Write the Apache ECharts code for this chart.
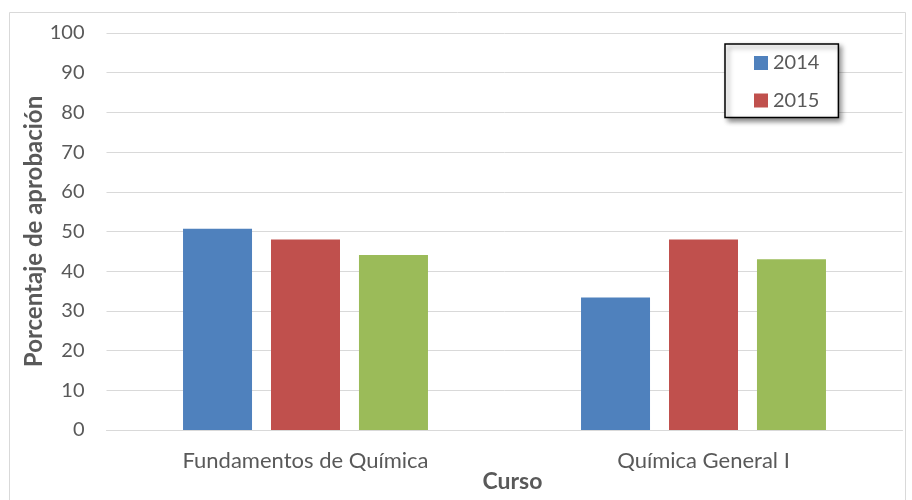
<!DOCTYPE html>
<html><head><meta charset="utf-8">
<script src="https://cdn.jsdelivr.net/npm/echarts@6/dist/echarts.min.js"></script>
<style>html,body{margin:0;padding:0;background:#fff}#c{width:912px;height:500px}</style>
</head><body><div id="c"></div>
<script>
const categories = ['Fundamentos de Química', 'Química General I'];
const s2014 = [50.7, 33.4];
const s2015 = [48.0, 48.0];
const s2016 = [44.1, 43.0];
const yTicks = [0, 10, 20, 30, 40, 50, 60, 70, 80, 90, 100];
const FONT = 'Lato, "Open Sans", sans-serif';
const chart = echarts.init(document.getElementById('c'), null, {renderer: 'canvas'});
chart.setOption({
  animation: false,
  backgroundColor: '#fff',
  graphic: [{type: 'rect', shape: {x: 9.5, y: 12.5, width: 896, height: 500}, style: {fill: 'none', stroke: '#d9d9d9', lineWidth: 1}, silent: true}],
  grid: {left: 106.5, right: 9.5, top: 33, bottom: 70, containLabel: false, outerBoundsMode: 'none'},
  legend: {
    data: ['2014', '2015'], orient: 'vertical', left: 725, top: 44,
    itemWidth: 14, itemHeight: 14, itemGap: 17.5,
    padding: [9, 19, 7, 29],
    textStyle: {fontFamily: FONT, fontSize: 20, lineHeight: 20, color: '#595959'},
    backgroundColor: '#fff', borderColor: '#000', borderWidth: 1.5, borderRadius: 0,
    shadowBlur: 5, shadowColor: 'rgba(0,0,0,0.45)', shadowOffsetX: 3, shadowOffsetY: 3,
    icon: 'rect'
  },
  xAxis: {
    type: 'category', data: categories,
    name: 'Curso', nameLocation: 'middle', nameGap: 40, nameMoveOverlap: false,
    nameTextStyle: {fontFamily: FONT, fontSize: 23, fontWeight: 'bold', color: '#595959', padding: [0, 0, 0, 16]},
    axisLine: {lineStyle: {color: '#d9d9d9', width: 1}},
    axisTick: {show: false},
    axisLabel: {fontFamily: FONT, fontSize: 22, color: '#595959', margin: 20}
  },
  yAxis: {
    type: 'value', min: 0, max: 100, interval: 10,
    name: 'Porcentaje de aprobación', nameLocation: 'middle', nameGap: 60, nameRotate: 90, nameMoveOverlap: false,
    nameTextStyle: {fontFamily: FONT, fontSize: 24, fontWeight: 'bold', color: '#595959'},
    axisLine: {show: false}, axisTick: {show: false},
    axisLabel: {fontFamily: FONT, fontSize: 20, color: '#595959', margin: 22,
      formatter: v => yTicks.includes(v) ? String(v) : ''},
    splitLine: {lineStyle: {color: '#d9d9d9', width: 1}}
  },
  series: [
    {name: '2014', type: 'bar', data: s2014, itemStyle: {color: '#4f81bd'}, barWidth: 69, barGap: '27.5%'},
    {name: '2015', type: 'bar', data: s2015, itemStyle: {color: '#c0504d'}, barWidth: 69, barGap: '27.5%'},
    {name: '2016', type: 'bar', data: s2016, itemStyle: {color: '#9bbb59'}, barWidth: 69, barGap: '27.5%'}
  ]
});
</script></body></html>
